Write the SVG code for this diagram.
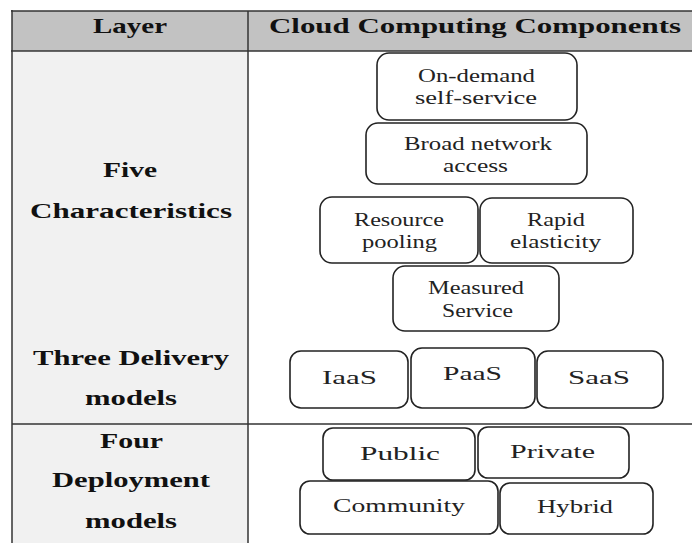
<svg xmlns="http://www.w3.org/2000/svg" width="692" height="543" viewBox="0 0 692 543">
<style>
.hdr{font-family:"Liberation Serif","Times New Roman",serif;font-weight:bold;font-size:22px;fill:#111}
.lay{font-family:"Liberation Serif","Times New Roman",serif;font-weight:bold;font-size:21px;fill:#111}
.bx{fill:#fff;stroke:#222;stroke-width:1.6}
.bt{font-family:"Liberation Serif","Times New Roman",serif;font-size:18px;fill:#222}
.bt2{font-family:"Liberation Serif","Times New Roman",serif;font-size:19px;fill:#222}
.ln{stroke:#333;stroke-width:1.5;fill:none}
</style>
<rect x="0" y="0" width="692" height="543" fill="#fff"/>
<g id="table">
<rect x="12" y="11" width="680" height="40" fill="#c2c2c2"/>
<rect x="12" y="52" width="236" height="491" fill="#f1f1f1"/>
<line class="ln" x1="11" y1="11" x2="692" y2="11" stroke-width="2"/>
<line class="ln" x1="11" y1="51" x2="692" y2="51" stroke-width="2.5"/>
<line class="ln" x1="12" y1="10" x2="12" y2="543" stroke="#666" stroke-width="3"/>
<line class="ln" x1="248" y1="11" x2="248" y2="543" stroke-width="1.5"/>
<line class="ln" x1="12" y1="424" x2="692" y2="424" stroke-width="1.5"/>
</g>
<g id="headers">
<text class="hdr" x="93" y="33" textLength="74" lengthAdjust="spacingAndGlyphs">Layer</text>
<text class="hdr" x="269" y="33" textLength="412" lengthAdjust="spacingAndGlyphs">Cloud Computing Components</text>
</g>
<g id="layer-labels">
<text class="lay" x="103" y="177" textLength="54" lengthAdjust="spacingAndGlyphs">Five</text>
<text class="lay" x="30" y="218" textLength="202" lengthAdjust="spacingAndGlyphs">Characteristics</text>
<text class="lay" x="33" y="365" textLength="196" lengthAdjust="spacingAndGlyphs">Three Delivery</text>
<text class="lay" x="85" y="405" textLength="92" lengthAdjust="spacingAndGlyphs">models</text>
<text class="lay" x="100" y="448" textLength="63" lengthAdjust="spacingAndGlyphs">Four</text>
<text class="lay" x="52" y="487" textLength="158" lengthAdjust="spacingAndGlyphs">Deployment</text>
<text class="lay" x="85" y="528" textLength="92" lengthAdjust="spacingAndGlyphs">models</text>
</g>
<g id="connectors"></g>
<g id="on-demand">
<rect class="bx" x="377" y="53" width="200" height="67" rx="12"/>
<text class="bt" x="418" y="82" textLength="117" lengthAdjust="spacingAndGlyphs">On-demand</text>
<text class="bt" x="415" y="104" textLength="122" lengthAdjust="spacingAndGlyphs">self-service</text>
</g>
<g id="broad-network">
<rect class="bx" x="366" y="123" width="221" height="61" rx="12"/>
<text class="bt" x="404" y="150" textLength="148" lengthAdjust="spacingAndGlyphs">Broad network</text>
<text class="bt" x="443" y="172" textLength="65" lengthAdjust="spacingAndGlyphs">access</text>
</g>
<g id="resource-pooling">
<rect class="bx" x="320" y="197" width="158" height="66" rx="12"/>
<text class="bt" x="354" y="226" textLength="90" lengthAdjust="spacingAndGlyphs">Resource</text>
<text class="bt" x="362" y="248" textLength="75" lengthAdjust="spacingAndGlyphs">pooling</text>
</g>
<g id="rapid-elasticity">
<rect class="bx" x="480" y="198" width="153" height="65" rx="12"/>
<text class="bt" x="527" y="226" textLength="58" lengthAdjust="spacingAndGlyphs">Rapid</text>
<text class="bt" x="510" y="248" textLength="91" lengthAdjust="spacingAndGlyphs">elasticity</text>
</g>
<g id="measured-service">
<rect class="bx" x="393" y="266" width="166" height="65" rx="12"/>
<text class="bt" x="428" y="294" textLength="96" lengthAdjust="spacingAndGlyphs">Measured</text>
<text class="bt" x="442" y="317" textLength="71" lengthAdjust="spacingAndGlyphs">Service</text>
</g>
<g id="iaas">
<rect class="bx" x="290" y="351" width="118" height="57" rx="11"/>
<text class="bt2" x="322" y="384" textLength="55" lengthAdjust="spacingAndGlyphs">IaaS</text>
</g>
<g id="paas">
<rect class="bx" x="411" y="348" width="124" height="60" rx="11"/>
<text class="bt2" x="443" y="380" textLength="59" lengthAdjust="spacingAndGlyphs">PaaS</text>
</g>
<g id="saas">
<rect class="bx" x="537" y="351" width="126" height="57" rx="11"/>
<text class="bt2" x="568" y="384" textLength="62" lengthAdjust="spacingAndGlyphs">SaaS</text>
</g>
<g id="public">
<rect class="bx" x="323" y="428" width="152" height="52" rx="10"/>
<text class="bt2" x="360" y="460" textLength="80" lengthAdjust="spacingAndGlyphs">Public</text>
</g>
<g id="private">
<rect class="bx" x="478" y="427" width="151" height="51" rx="10"/>
<text class="bt2" x="510" y="458" textLength="85" lengthAdjust="spacingAndGlyphs">Private</text>
</g>
<g id="community">
<rect class="bx" x="300" y="481" width="198" height="53" rx="10"/>
<text class="bt2" x="333" y="512" textLength="132" lengthAdjust="spacingAndGlyphs">Community</text>
</g>
<g id="hybrid">
<rect class="bx" x="500" y="483" width="153" height="51" rx="10"/>
<text class="bt2" x="537" y="513" textLength="76" lengthAdjust="spacingAndGlyphs">Hybrid</text>
</g>
</svg>
